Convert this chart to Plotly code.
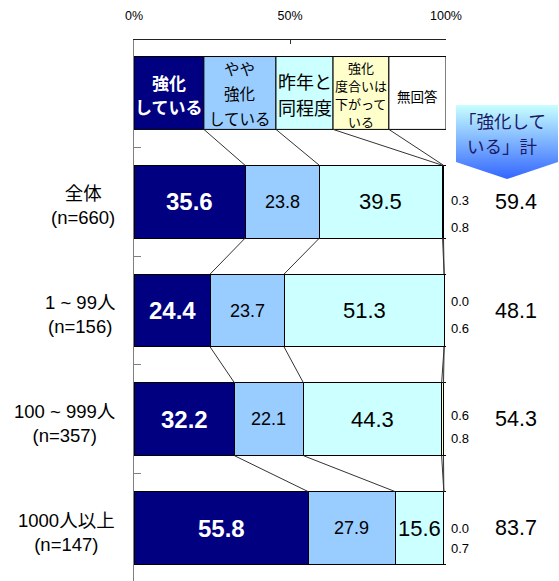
import plotly.graph_objects as go

# ---------------- data ----------------
CATEGORIES = ["全体", "1 ~ 99人", "100 ~ 999人", "1000人以上"]
N_LABELS = ["(n=660)", "(n=156)", "(n=357)", "(n=147)"]
SERIES_NAMES = ["強化している", "やや強化している", "昨年と同程度",
                "強化度合いは下がっている", "無回答"]
HEADER_LINES = [["強化", "している"], ["やや", "強化", "している"],
                ["昨年と", "同程度"], ["強化", "度合いは", "下がって", "いる"],
                ["無回答"]]
STRONG = [35.6, 24.4, 32.2, 55.8]
SOMEWHAT = [23.8, 23.7, 22.1, 27.9]
SAME = [39.5, 51.3, 44.3, 15.6]
LOWER = [0.3, 0.0, 0.6, 0.0]
NO_ANSWER = [0.8, 0.6, 0.8, 0.7]
TOTAL = [59.4, 48.1, 54.3, 83.7]
TOTAL_TITLE = ["「強化して", "いる」計"]
X_TICKS = [0, 50, 100]
X_TICK_TEXT = ["0%", "50%", "100%"]

# ---------------- style / layout ----------------
W, H = 559, 581
PLOT_L, PLOT_R, PLOT_T = 134, 446, 40
Y_RANGE = [4.487, -0.487]
PY = (H - PLOT_T) / (Y_RANGE[0] - Y_RANGE[1])   # px per category unit
BAR_W = 0.67
HEADER_EDGES = [0, 22.4, 45.5, 63.8, 81.7, 100]
COLORS = ["#000080", "#99CCFF", "#CCFFFF", "#FFFFCC", "#FFFFFF"]
NUM_FONT = "Liberation Sans, Arial, Noto Sans CJK JP"
JP_FONT = "Noto Sans CJK JP, Liberation Sans"
HEADER_STYLE = [
    dict(size=17, color="white", weight="bold", ys=[82, 106]),
    dict(size=15.5, color="black", weight="normal", ys=[68, 93, 118]),
    dict(size=18, color="black", weight="normal", ys=[81, 107]),
    dict(size=13, color="black", weight="normal", ys=[67, 85, 103, 121]),
    dict(size=13.5, color="black", weight="normal", ys=[96]),
]
VALUE_STYLE = [
    dict(size=24, color="white", weight="bold"),
    dict(size=18, color="black", weight="normal"),
    dict(size=22, color="black", weight="normal"),
]
SMALL_UP = [1, 9, 4, 0]
SMALL_DOWN = [26, 18, 19, 20]

series = [STRONG, SOMEWHAT, SAME, LOWER, NO_ANSWER]
rows = list(range(1, len(CATEGORIES) + 1))

fig = go.Figure()
for name, vals, col in zip(SERIES_NAMES, series, COLORS):
    fig.add_trace(go.Bar(
        y=rows, x=vals, name=name, orientation="h", width=BAR_W,
        marker=dict(color=col, line=dict(color="black", width=1)),
        hoverinfo="skip", showlegend=False,
    ))

annotations = []
shapes = []

# header legend boxes
header_y_center = PLOT_T + (0 - Y_RANGE[1]) * PY
for k in range(5):
    x0, x1 = HEADER_EDGES[k], HEADER_EDGES[k + 1]
    shapes.append(dict(type="rect", xref="x", yref="y", x0=x0, x1=x1,
                       y0=-BAR_W / 2, y1=BAR_W / 2, fillcolor=COLORS[k],
                       line=dict(color="black", width=1), layer="above"))
    st = HEADER_STYLE[k]
    for line, py in zip(HEADER_LINES[k], st["ys"]):
        annotations.append(dict(
            x=(x0 + x1) / 2, y=0, xref="x", yref="y", text=line,
            showarrow=False, xanchor="center", yanchor="middle",
            yshift=header_y_center - py,
            font=dict(family=JP_FONT, size=st["size"], color=st["color"],
                      weight=st["weight"])))

# cumulative boundaries per level
levels = [HEADER_EDGES[1:5]]
for r in range(len(CATEGORIES)):
    c, acc = [], 0
    for s in series[:4]:
        acc += s[r]
        c.append(acc)
    levels.append(c)
for i in range(len(levels) - 1):
    for a, b in zip(levels[i], levels[i + 1]):
        shapes.append(dict(type="line", xref="x", yref="y", x0=a, x1=b,
                           y0=i + BAR_W / 2, y1=i + 1 - BAR_W / 2,
                           line=dict(color="#333333", width=1)))

# value labels
for r, row in enumerate(rows):
    acc = 0
    for k in range(3):
        v = series[k][r]
        st = VALUE_STYLE[k]
        annotations.append(dict(
            x=acc + v / 2, y=row, xref="x", yref="y", text=f"{v:.1f}",
            showarrow=False, xanchor="center", yanchor="middle",
            font=dict(family=NUM_FONT, size=st["size"], color=st["color"],
                      weight=st["weight"])))
        acc += v
    annotations.append(dict(
        x=100, y=row, xref="x", yref="y", text=f"{LOWER[r]:.1f}",
        showarrow=False, xanchor="left", yanchor="middle", xshift=3,
        yshift=SMALL_UP[r], font=dict(family=NUM_FONT, size=13, color="black")))
    annotations.append(dict(
        x=100, y=row, xref="x", yref="y", text=f"{NO_ANSWER[r]:.1f}",
        showarrow=False, xanchor="left", yanchor="middle", xshift=3,
        yshift=-SMALL_DOWN[r], font=dict(family=NUM_FONT, size=13, color="black")))
    annotations.append(dict(
        x=100, y=row, xref="x", yref="y", text=f"{TOTAL[r]:.1f}",
        showarrow=False, xanchor="center", yanchor="middle", xshift=70,
        font=dict(family=NUM_FONT, size=21.5, color="black")))
    annotations.append(dict(
        x=0, y=row, xref="x", yref="y",
        text=f"{CATEGORIES[r]}<br>{N_LABELS[r]}",
        showarrow=False, xanchor="right", yanchor="middle", align="center",
        xshift=-17, yshift=-4,
        font=dict(family=NUM_FONT, size=18.5, color="black")))

# callout arrow with gradient (pixel-coordinate overlay axes)
fig.add_trace(go.Scatter(
    x=[456, 558, 558, 507, 456, 456], y=[105, 105, 162, 179, 162, 105],
    xaxis="x2", yaxis="y2", mode="lines", line=dict(width=0),
    fill="toself",
    fillgradient=dict(type="vertical", start=105, stop=179,
                      colorscale=[[0, "#C8FFFF"], [1, "#3366FF"]]),
    hoverinfo="skip", showlegend=False))
for line, py in zip(TOTAL_TITLE, [120, 145]):
    annotations.append(dict(
        x=502, y=py, xref="x2", yref="y2", text=line, showarrow=False,
        xanchor="center", yanchor="middle",
        font=dict(family=JP_FONT, size=17.5, color="#1a1a66")))

fig.update_layout(
    width=W, height=H, autosize=False,
    margin=dict(l=0, r=0, t=0, b=0, pad=0, autoexpand=False),
    paper_bgcolor="white", plot_bgcolor="rgba(0,0,0,0)",
    barmode="stack", showlegend=False,
    shapes=shapes, annotations=annotations,
    xaxis=dict(domain=[PLOT_L / W, PLOT_R / W], range=[0, 100], side="top",
               tickvals=X_TICKS, ticktext=X_TICK_TEXT, ticks="inside",
               ticklen=4, tickcolor="#333333", showline=True,
               linecolor="#222222", linewidth=1, showgrid=False,
               zeroline=False, ticklabelstandoff=14, anchor="y",
               automargin=False,
               tickfont=dict(family=NUM_FONT, size=12.5, color="black")),
    yaxis=dict(domain=[0, (H - PLOT_T) / H], range=Y_RANGE,
               tickvals=[0.5, 1.5, 2.5, 3.5], ticks="inside", ticklen=7,
               tickcolor="#808080", showticklabels=False, showline=True,
               linecolor="#808080", linewidth=1, showgrid=False,
               zeroline=False, anchor="x", automargin=False),
    xaxis2=dict(domain=[0, 1], range=[0, W], visible=False, anchor="y2",
                fixedrange=True, automargin=False),
    yaxis2=dict(domain=[0, 1], range=[H, 0], visible=False, anchor="x2",
                fixedrange=True, automargin=False),
)

fig.write_html("out.html")
